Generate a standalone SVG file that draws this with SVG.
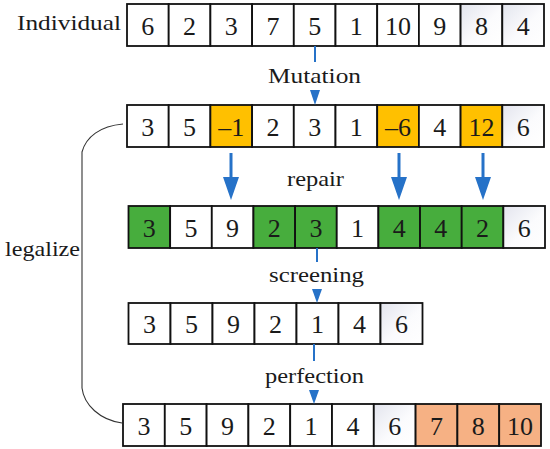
<svg xmlns="http://www.w3.org/2000/svg" width="550" height="449" viewBox="0 0 550 449">
<style>
.c{stroke:#111;stroke-width:1.8;fill:#fff}
.o{fill:#ffc000}
.g{fill:#47ad3d}
.p{fill:#f6b184}
.s{fill:url(#gr)}
text{font-family:'Liberation Serif','Times New Roman',Tinos,serif;fill:#1a1a1a}
.n{font-size:26px;text-anchor:middle}
.l{font-size:22px}
.bl{stroke:#2672c8;fill:none}
.ah{fill:#2672c8}
</style>
<defs>
<linearGradient id="gr" x1="0" y1="0" x2="1" y2="1">
<stop offset="0" stop-color="#e3e5ee"/>
<stop offset="0.55" stop-color="#fbfbfd"/>
<stop offset="1" stop-color="#fff"/>
</linearGradient>
</defs>
<rect width="550" height="449" fill="#fff"/>
<g id="labels">
<text class="l" x="17" y="30" textLength="104" lengthAdjust="spacingAndGlyphs">Individual</text>
<text class="l" x="268" y="83" textLength="93" lengthAdjust="spacingAndGlyphs">Mutation</text>
<text class="l" x="287" y="186" textLength="57" lengthAdjust="spacingAndGlyphs">repair</text>
<text class="l" x="269" y="282" textLength="95" lengthAdjust="spacingAndGlyphs">screening</text>
<text class="l" x="265" y="383" textLength="99" lengthAdjust="spacingAndGlyphs">perfection</text>
<text class="l" x="5" y="256" textLength="75" lengthAdjust="spacingAndGlyphs">legalize</text>
</g>
<g id="row-individual">
<rect class="c" x="127" y="4" width="41.7" height="42"/>
<rect class="c" x="168.7" y="4" width="41.7" height="42"/>
<rect class="c" x="210.4" y="4" width="41.7" height="42"/>
<rect class="c" x="252.1" y="4" width="41.7" height="42"/>
<rect class="c" x="293.8" y="4" width="41.7" height="42"/>
<rect class="c" x="335.5" y="4" width="41.7" height="42"/>
<rect class="c" x="377.2" y="4" width="41.7" height="42"/>
<rect class="c" x="418.9" y="4" width="41.7" height="42"/>
<rect class="c s" x="460.6" y="4" width="41.7" height="42"/>
<rect class="c s" x="502.3" y="4" width="41.7" height="42"/>
<text class="n" x="147.85" y="35">6</text>
<text class="n" x="189.55" y="35">2</text>
<text class="n" x="231.25" y="35">3</text>
<text class="n" x="272.95" y="35">7</text>
<text class="n" x="314.65" y="35">5</text>
<text class="n" x="356.35" y="35">1</text>
<text class="n" x="398.05" y="35">10</text>
<text class="n" x="439.75" y="35">9</text>
<text class="n" x="481.45" y="35">8</text>
<text class="n" x="523.15" y="35">4</text>
</g>
<g id="row-mutation">
<rect class="c" x="127" y="105" width="41.7" height="42"/>
<rect class="c" x="168.7" y="105" width="41.7" height="42"/>
<rect class="c o" x="210.4" y="105" width="41.7" height="42"/>
<rect class="c" x="252.1" y="105" width="41.7" height="42"/>
<rect class="c" x="293.8" y="105" width="41.7" height="42"/>
<rect class="c" x="335.5" y="105" width="41.7" height="42"/>
<rect class="c o" x="377.2" y="105" width="41.7" height="42"/>
<rect class="c" x="418.9" y="105" width="41.7" height="42"/>
<rect class="c o" x="460.6" y="105" width="41.7" height="42"/>
<rect class="c s" x="502.3" y="105" width="41.7" height="42"/>
<text class="n" x="147.85" y="136">3</text>
<text class="n" x="189.55" y="136">5</text>
<text class="n" x="231.25" y="136">–1</text>
<text class="n" x="272.95" y="136">2</text>
<text class="n" x="314.65" y="136">3</text>
<text class="n" x="356.35" y="136">1</text>
<text class="n" x="398.05" y="136">–6</text>
<text class="n" x="439.75" y="136">4</text>
<text class="n" x="481.45" y="136">12</text>
<text class="n" x="523.15" y="136">6</text>
</g>
<g id="row-repair">
<rect class="c g" x="128.5" y="206" width="41.65" height="42"/>
<rect class="c" x="170.15" y="206" width="41.65" height="42"/>
<rect class="c" x="211.8" y="206" width="41.65" height="42"/>
<rect class="c g" x="253.45" y="206" width="41.65" height="42"/>
<rect class="c g" x="295.1" y="206" width="41.65" height="42"/>
<rect class="c" x="336.75" y="206" width="41.65" height="42"/>
<rect class="c g" x="378.4" y="206" width="41.65" height="42"/>
<rect class="c g" x="420.05" y="206" width="41.65" height="42"/>
<rect class="c g" x="461.7" y="206" width="41.65" height="42"/>
<rect class="c s" x="503.35" y="206" width="41.65" height="42"/>
<text class="n" x="149.3" y="237">3</text>
<text class="n" x="190.95" y="237">5</text>
<text class="n" x="232.6" y="237">9</text>
<text class="n" x="274.25" y="237">2</text>
<text class="n" x="315.9" y="237">3</text>
<text class="n" x="357.55" y="237">1</text>
<text class="n" x="399.2" y="237">4</text>
<text class="n" x="440.85" y="237">4</text>
<text class="n" x="482.5" y="237">2</text>
<text class="n" x="524.15" y="237">6</text>
</g>
<g id="row-screening">
<rect class="c" x="128.5" y="303" width="42" height="41"/>
<rect class="c" x="170.5" y="303" width="42" height="41"/>
<rect class="c" x="212.5" y="303" width="42" height="41"/>
<rect class="c" x="254.5" y="303" width="42" height="41"/>
<rect class="c" x="296.5" y="303" width="42" height="41"/>
<rect class="c" x="338.5" y="303" width="42" height="41"/>
<rect class="c s" x="380.5" y="303" width="42" height="41"/>
<text class="n" x="149.5" y="333">3</text>
<text class="n" x="191.5" y="333">5</text>
<text class="n" x="233.5" y="333">9</text>
<text class="n" x="275.5" y="333">2</text>
<text class="n" x="317.5" y="333">1</text>
<text class="n" x="359.5" y="333">4</text>
<text class="n" x="401.5" y="333">6</text>
</g>
<g id="row-perfection">
<rect class="c" x="123" y="404" width="41.8" height="42"/>
<rect class="c" x="164.8" y="404" width="41.8" height="42"/>
<rect class="c" x="206.6" y="404" width="41.8" height="42"/>
<rect class="c" x="248.4" y="404" width="41.8" height="42"/>
<rect class="c" x="290.2" y="404" width="41.8" height="42"/>
<rect class="c" x="332" y="404" width="41.8" height="42"/>
<rect class="c s" x="373.8" y="404" width="41.8" height="42"/>
<rect class="c p" x="415.6" y="404" width="41.8" height="42"/>
<rect class="c p" x="457.4" y="404" width="41.8" height="42"/>
<rect class="c p" x="499.2" y="404" width="41.8" height="42"/>
<text class="n" x="143.9" y="435">3</text>
<text class="n" x="185.7" y="435">5</text>
<text class="n" x="227.5" y="435">9</text>
<text class="n" x="269.3" y="435">2</text>
<text class="n" x="311.1" y="435">1</text>
<text class="n" x="352.9" y="435">4</text>
<text class="n" x="394.7" y="435">6</text>
<text class="n" x="436.5" y="435">7</text>
<text class="n" x="478.3" y="435">8</text>
<text class="n" x="520.1" y="435">10</text>
</g>
<g id="connectors">
<path d="M123,124 C100,126 86,137 82,152 L82,388 C84,405 100,420 122,423" fill="none" stroke="#333" stroke-width="1.1"/>
<line class="bl" x1="315" y1="46" x2="315" y2="62" stroke-width="2"/>
<polygon class="ah" points="310,90 320,90 315,105"/>
<line class="bl" x1="231" y1="153" x2="231" y2="180" stroke-width="3"/>
<polygon class="ah" points="223,177 239,177 231,200"/>
<line class="bl" x1="399" y1="153" x2="399" y2="180" stroke-width="3"/>
<polygon class="ah" points="391,177 407,177 399,200"/>
<line class="bl" x1="483" y1="153" x2="483" y2="180" stroke-width="3"/>
<polygon class="ah" points="475,177 491,177 483,200"/>
<line class="bl" x1="317" y1="248" x2="317" y2="262" stroke-width="2"/>
<polygon class="ah" points="312,289 322,289 317,303"/>
<line class="bl" x1="314" y1="344" x2="314" y2="361" stroke-width="2"/>
<polygon class="ah" points="309,390 319,390 314,404"/>
</g>
</svg>
